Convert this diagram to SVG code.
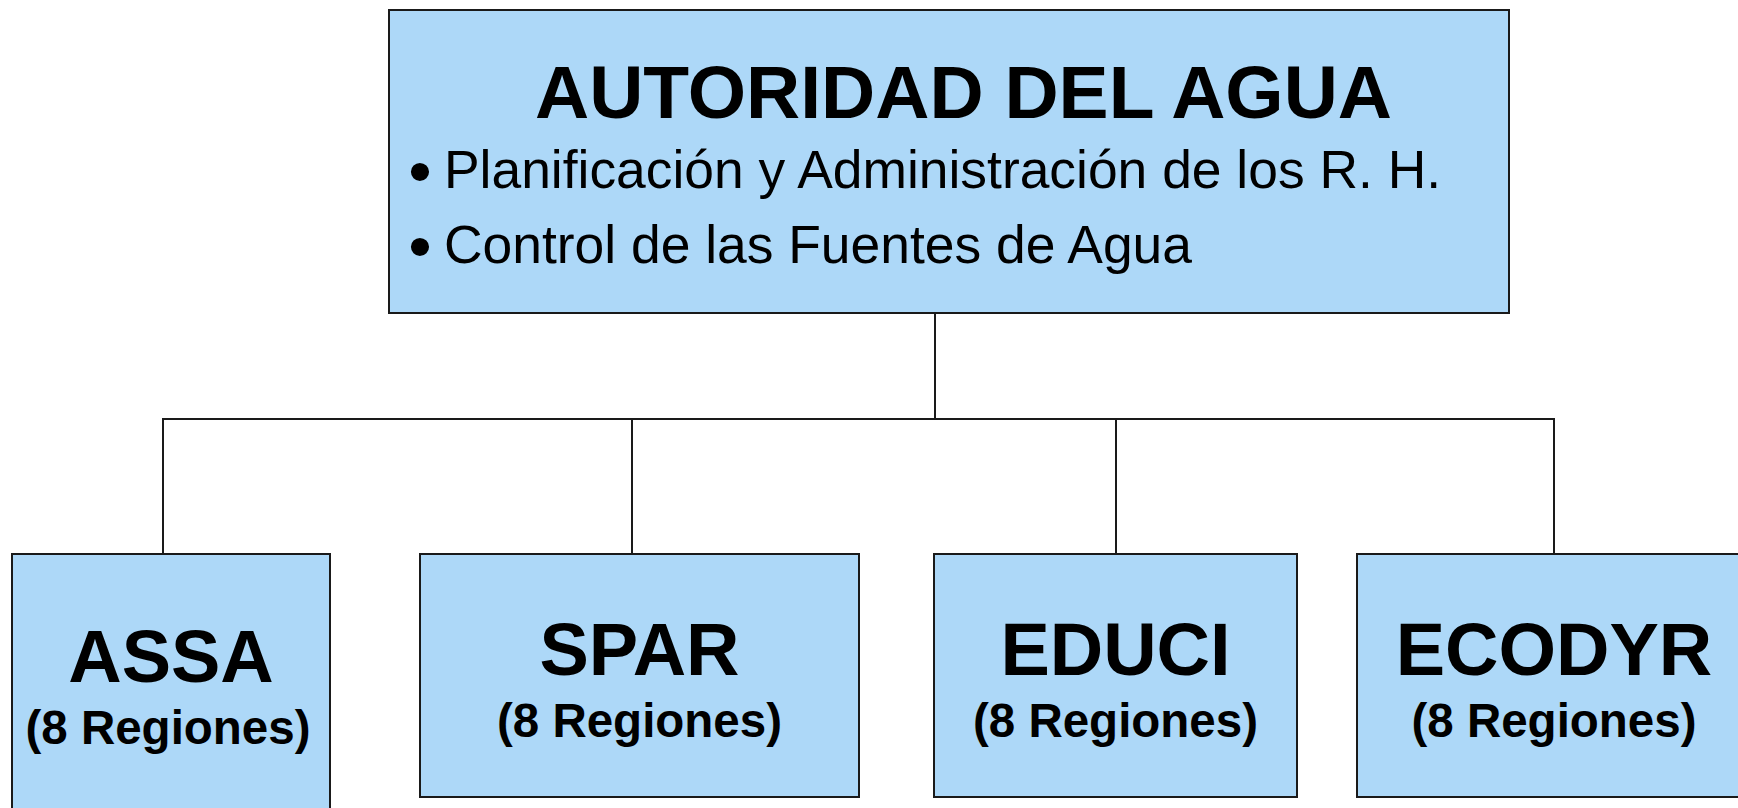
<svg xmlns="http://www.w3.org/2000/svg" width="1738" height="808" viewBox="0 0 1738 808">
<style>
.box{fill:#ADD8F8;stroke:#1a1a1a;stroke-width:2}
.conn{fill:none;stroke:#1a1a1a;stroke-width:2}
.t{font-family:"Liberation Sans",Arial,sans-serif;fill:#000}
.title{font-weight:bold;font-size:75px}
.sub{font-weight:bold;font-size:47.5px;text-anchor:middle}
.name{font-weight:bold;font-size:74px;text-anchor:middle}
.item{font-size:53.4px}
.bul{font-size:67px;text-anchor:middle}
</style>
<rect width="1738" height="808" fill="#ffffff"/>
<g id="connectors">
<path class="conn" d="M935 313 V419"/>
<path class="conn" d="M163 554 V419 H1554 V554"/>
<path class="conn" d="M632 419 V554"/>
<path class="conn" d="M1116 419 V554"/>
</g>
<g id="autoridad">
<rect class="box" x="389" y="10" width="1120" height="303"/>
<text class="t title" x="535" y="118">AUTORIDAD DEL AGUA</text>
<text class="t bul" x="420" y="194">•</text>
<text class="t item" x="444" y="188">Planificación y Administración de los R. H.</text>
<text class="t bul" x="420" y="269">•</text>
<text class="t item" x="444" y="263">Control de las Fuentes de Agua</text>
</g>
<g id="assa">
<rect class="box" x="12" y="554" width="318" height="280"/>
<text class="t name" x="171" y="682">ASSA</text>
<text class="t sub" x="168" y="744">(8 Regiones)</text>
</g>
<g id="spar">
<rect class="box" x="420" y="554" width="439" height="243"/>
<text class="t name" x="639.5" y="675">SPAR</text>
<text class="t sub" x="639.5" y="737">(8 Regiones)</text>
</g>
<g id="educi">
<rect class="box" x="934" y="554" width="363" height="243"/>
<text class="t name" x="1115.5" y="675">EDUCI</text>
<text class="t sub" x="1115.5" y="737">(8 Regiones)</text>
</g>
<g id="ecodyr">
<rect class="box" x="1357" y="554" width="394" height="243"/>
<text class="t name" x="1554" y="675">ECODYR</text>
<text class="t sub" x="1554" y="737">(8 Regiones)</text>
</g>
</svg>
